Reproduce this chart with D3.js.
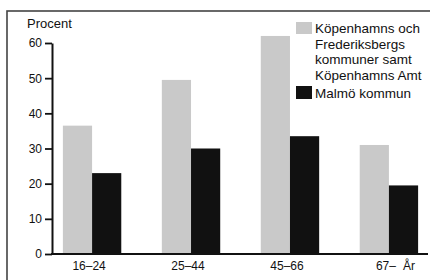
<!DOCTYPE html>
<html>
<head>
<meta charset="utf-8">
<script src="https://cdn.jsdelivr.net/npm/d3@7"></script>
<style>
body { margin: 0; background: #fff; }
text { font-family: "Liberation Sans", Arial, sans-serif; fill: #111; }
</style>
</head>
<body>
<svg id="chart"></svg>
<script>
// GLOBALS
var w = 430, h = 280;

var ageGroups = ["16–24", "25–44", "45–66", "67–"];
var seriesNames = ["Köpenhamns och Frederiksbergs kommuner samt Köpenhamns Amt", "Malmö kommun"];
var kopenhamn = [36.5, 49.5, 62, 31];
var malmo = [23, 30, 33.5, 19.5];
var yTicks = [0, 10, 20, 30, 40, 50, 60];
var legendLines = ["Köpenhamns och", "Frederiksbergs", "kommuner samt", "Köpenhamns Amt"];
var colors = ["#c9c9c9", "#111111"];

var rows = ageGroups.map(function(g, i) {
  return { group: g, values: [kopenhamn[i], malmo[i]] };
});

var svg = d3.select("#chart").attr("width", w).attr("height", h);

// frame round the figure
svg.append("rect")
  .attr("x", 7).attr("y", 11)
  .attr("width", 440).attr("height", 300)
  .attr("fill", "none")
  .attr("stroke", "#444")
  .attr("stroke-width", 1.6);

var x0 = d3.scaleBand().domain(ageGroups).range([53, 428]).paddingInner(0.41).paddingOuter(0.1);
var x1 = d3.scaleBand().domain([0, 1]).range([0, x0.bandwidth()]);
var y = d3.scaleLinear().domain([0, 60]).range([254, 43]);

// bars
var grp = svg.selectAll(".grp")
  .data(rows)
  .enter().append("g")
    .attr("class", "grp")
    .attr("transform", function(d) { return "translate(" + x0(d.group) + ",0)"; });

grp.selectAll("rect")
  .data(function(d) { return d.values; })
  .enter().append("rect")
    .attr("x", function(d, i) { return x1(i); })
    .attr("y", function(d) { return y(d); })
    .attr("width", x1.bandwidth())
    .attr("height", function(d) { return y(0) - y(d); })
    .attr("fill", function(d, i) { return colors[i]; });

// y axis
var yAxis = svg.append("g")
  .attr("transform", "translate(52,0)")
  .call(d3.axisLeft(y).tickValues(yTicks).tickSize(7).tickSizeOuter(0).tickPadding(3));
yAxis.select(".domain").attr("stroke", "#111").attr("stroke-width", 2);
yAxis.selectAll(".tick line").attr("stroke", "#111").attr("stroke-width", 1.8);
yAxis.selectAll("text").attr("font-size", 12).style("font-family", "Liberation Sans, Arial, sans-serif").attr("fill", "#111");

// x baseline
svg.append("line")
  .attr("x1", 51).attr("x2", 428)
  .attr("y1", y(0)).attr("y2", y(0))
  .attr("stroke", "#111").attr("stroke-width", 2.2);

// x labels
svg.selectAll(".xlab")
  .data(ageGroups)
  .enter().append("text")
    .attr("class", "xlab")
    .attr("x", function(d) { return x0(d) + x0.bandwidth() / 2 - 3; })
    .attr("y", 270)
    .attr("text-anchor", "middle")
    .attr("font-size", 12)
    .text(function(d) { return d; });

svg.append("text")
  .attr("x", 403).attr("y", 270)
  .attr("font-size", 12)
  .text("År");

svg.append("text")
  .attr("x", 27).attr("y", 28)
  .attr("font-size", 13)
  .text("Procent");

// legend
svg.append("rect").attr("x", 296).attr("y", 22).attr("width", 16).attr("height", 12).attr("fill", colors[0]);
svg.append("text")
  .attr("x", 315).attr("y", 33)
  .attr("font-size", 13.5)
  .selectAll("tspan")
  .data(legendLines)
  .enter().append("tspan")
    .attr("x", 315)
    .attr("dy", function(d, i) { return i ? 15.5 : 0; })
    .text(function(d) { return d; });

svg.append("rect").attr("x", 296).attr("y", 86).attr("width", 16).attr("height", 13).attr("fill", colors[1]);
svg.append("text")
  .attr("x", 315).attr("y", 98)
  .attr("font-size", 13.5)
  .text(seriesNames[1]);
</script>
</body>
</html>
